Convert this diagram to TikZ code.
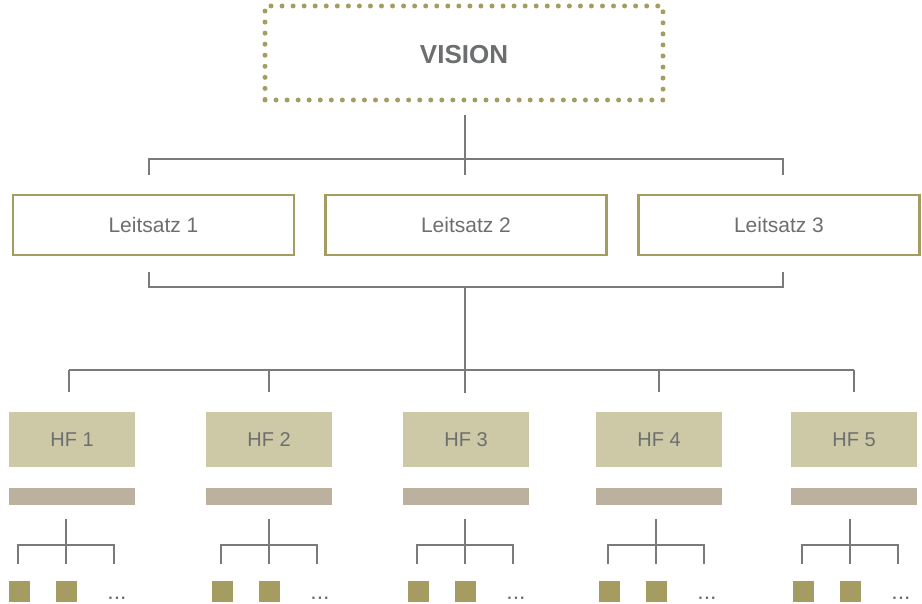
\documentclass[tikz,border=0pt]{standalone}
\usepackage{fontspec}
\setmainfont{Liberation Sans}
\definecolor{olive}{HTML}{A59C62}
\definecolor{hffill}{HTML}{CDC9A7}
\definecolor{barfill}{HTML}{BCB09F}
\definecolor{linegray}{HTML}{7A7A7A}
\definecolor{txtgray}{HTML}{6D6E70}
\tikzset{
  visionbox/.style={draw=olive, line width=5pt, dash pattern=on 0pt off 11.05pt, line cap=round,
    minimum width=398pt, minimum height=94pt, inner sep=0pt, text=txtgray,
    text height=21.6pt, text depth=0pt,
    font=\fontsize{26}{30}\selectfont\bfseries},
  leitbox/.style={draw=olive, line width=2.5pt, minimum width=281pt, minimum height=60pt,
    inner sep=0pt, text=txtgray, font=\fontsize{21}{24}\selectfont},
  hfbox/.style={fill=hffill, minimum width=126pt, minimum height=55pt, inner sep=0pt,
    text=txtgray, font=\fontsize{20}{24}\selectfont},
  barbox/.style={fill=barfill, minimum width=126pt, minimum height=17pt, inner sep=0pt},
  sqbox/.style={fill=olive, minimum width=21pt, minimum height=21pt, inner sep=0pt},
  dotstext/.style={text=txtgray, inner sep=0pt, anchor=base, font=\fontsize{23}{26}\selectfont},
  conn/.style={draw=linegray, line width=1.3pt},
}
\begin{document}
\begin{tikzpicture}[x=1pt,y=-1pt]
\useasboundingbox (0,0) rectangle (922,604);
% Vision
\node[visionbox] (vision) at (464,53) {VISION};
% Leitsatz
\node[leitbox] (ls1) at (153.5,225) {Leitsatz 1};
\node[leitbox] (ls2) at (466,225) {Leitsatz 2};
\node[leitbox] (ls3) at (779,225) {Leitsatz 3};
% top bracket
\coordinate (vtop) at (465,115);
\coordinate (vmid) at (465,159);
\coordinate (vl) at (149,159);
\coordinate (vr) at (783,159);
\coordinate (dl1) at (149,175);
\coordinate (dl2) at (465,175);
\coordinate (dl3) at (783,175);
\draw[conn] (vtop) -- (dl2);
\draw[conn] (dl1) -- (vl) -- (vr) -- (dl3);
% middle bracket
\coordinate (ul1) at (149,272);
\coordinate (ul3) at (783,272);
\coordinate (hl) at (149,287);
\coordinate (hm) at (465,287);
\coordinate (hr) at (783,287);
\coordinate (hd) at (465,393);
\draw[conn] (ul1) -- (hl) -- (hr) -- (ul3);
\draw[conn] (hm) -- (hd);
\coordinate (bl) at (69,370);
\coordinate (br) at (854,370);
\draw[conn] (bl) -- (br);
% HF columns
\foreach \i/\hx/\tx/\dx in {1/72/66/69, 2/269/269/269, 3/466/465/465, 4/659/656/659, 5/854/850/854}{
  \node[hfbox] (hf\i) at (\hx,439.5) {HF \i};
  \node[barbox] (bar\i) at (\hx,496.5) {};
  \coordinate (hd\i) at (\dx,370);
  \coordinate (he\i) at (\dx,392);
  \draw[conn] (hd\i) -- (he\i);
  \coordinate (tt\i) at (\tx,519);
  \coordinate (tj\i) at (\tx,545);
  \coordinate (tl\i) at (\tx-48,545);
  \coordinate (tr\i) at (\tx+48,545);
  \coordinate (tlb\i) at (\tx-48,564);
  \coordinate (tmb\i) at (\tx,564);
  \coordinate (trb\i) at (\tx+48,564);
  \draw[conn] (tt\i) -- (tmb\i);
  \draw[conn] (tlb\i) -- (tl\i) -- (tr\i) -- (trb\i);
  \node[sqbox] (sqa\i) at (\tx-46.5,591.5) {};
  \node[sqbox] (sqb\i) at (\tx+0.5,591.5) {};
  \node[dotstext] (dots\i) at (\tx+51,599.5) {...};
}
\end{tikzpicture}
\end{document}
